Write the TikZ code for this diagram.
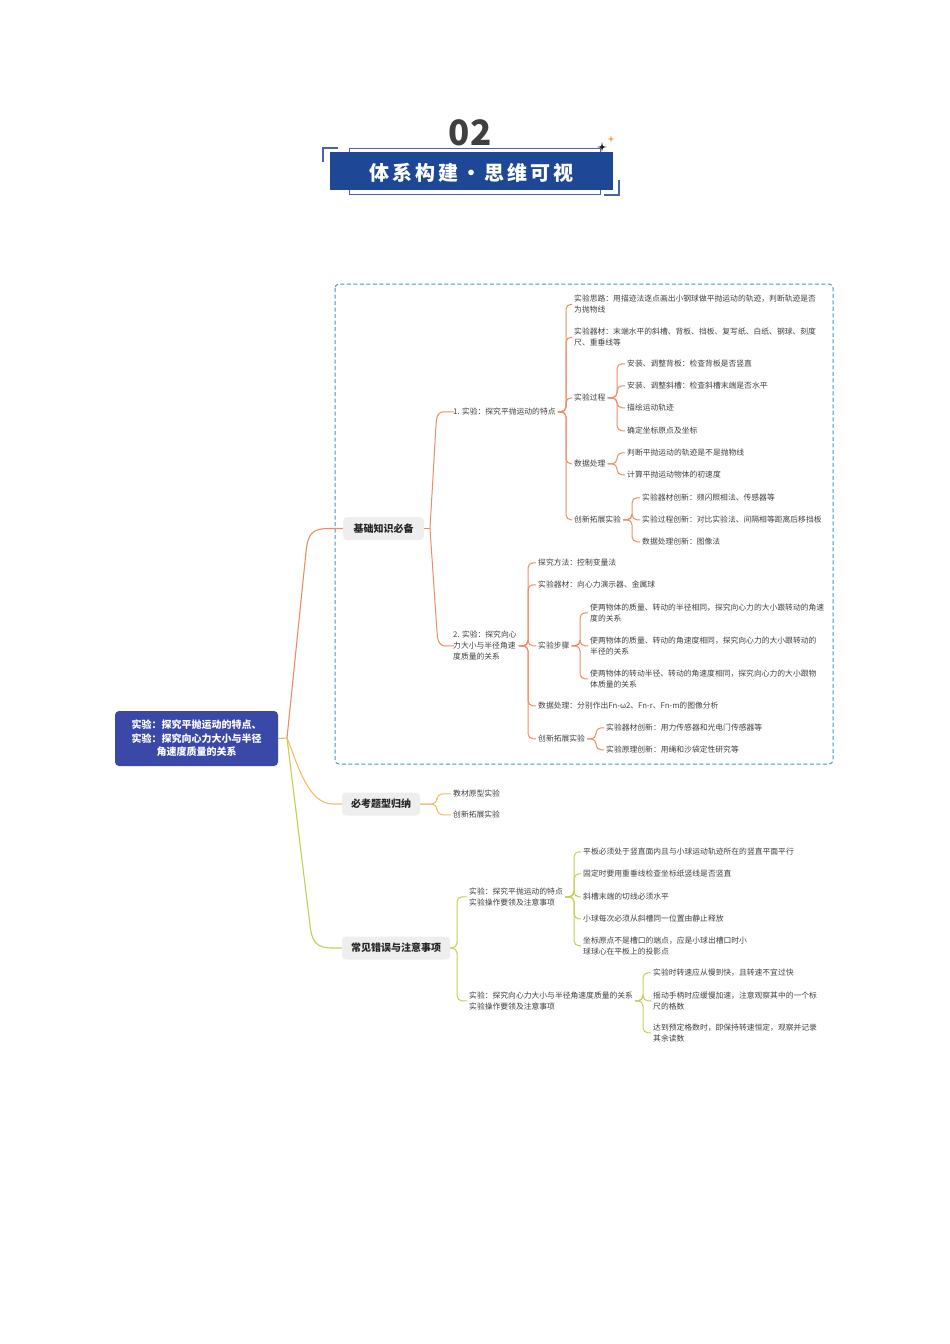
\documentclass[tikz,border=0pt]{standalone}
\usepackage{fontspec}
\setmainfont{Noto Sans CJK SC}
\usetikzlibrary{calc}
\definecolor{txt}{RGB}{64,64,64}
\definecolor{numc}{RGB}{64,64,64}
\definecolor{hblue}{RGB}{30,72,150}
\definecolor{hline}{RGB}{70,100,170}
\definecolor{boxc}{RGB}{60,150,210}
\definecolor{rootc}{RGB}{58,72,168}
\definecolor{kgray}{RGB}{238,238,238}
\definecolor{orA}{RGB}{235,140,100}
\definecolor{orB}{RGB}{242,188,100}
\definecolor{ygr}{RGB}{196,206,80}
\definecolor{starc}{RGB}{235,160,70}
\newcommand\brk[4]{\draw[#1] (#2.east) -- (#2.east -| #3) |- (#4.west);}
\begin{document}
\begin{tikzpicture}[x=1pt,y=-1pt,
  leaf/.style={anchor=west, inner xsep=2pt, inner ysep=1pt, yshift=-0.8pt, font=\fontsize{7.8}{11}\selectfont, text=txt, align=left},
  knode/.style={fill=kgray, rounded corners=4pt, font=\fontsize{10}{12}\selectfont\bfseries, text=black!85, minimum height=23pt, inner xsep=0pt},
  cA/.style={draw=orA, line width=1pt, rounded corners=5pt},
  cB/.style={draw=orB, line width=1pt, rounded corners=6pt},
  cC/.style={draw=ygr, line width=1pt, rounded corners=5pt},
  mainA/.style={draw=orA, line width=1.1pt},
  mainB/.style={draw=orB, line width=1.1pt},
  mainC/.style={draw=ygr, line width=1.1pt}]
\useasboundingbox (0,0) rectangle (950,1344);

% ---------- header ----------
\node[text=numc, font=\fontsize{35}{35}\selectfont\bfseries] (num) at (470,133) {02};
\draw[hline, line width=0.8pt] (349,148) rectangle (600,194);
\fill[hblue] (330,152) rectangle (613,190);
\draw[hline, line width=1.3pt] (323,162) -- (323,148) -- (338,148);
\draw[hline, line width=1.3pt] (604,195) -- (619,195) -- (619,180);
\node[text=white, font=\fontsize{20}{20}\selectfont\bfseries] (title) at (471,172.5)
  {体\hspace{3pt}系\hspace{3pt}构\hspace{3pt}建\hspace{3pt}・\hspace{3pt}思\hspace{3pt}维\hspace{3pt}可\hspace{3pt}视};
\fill[black!85, shift={(602,147)}] (0,-5) .. controls (0.6,-0.6) .. (5,0) .. controls (0.6,0.6) .. (0,5) .. controls (-0.6,0.6) .. (-5,0) .. controls (-0.6,-0.6) .. (0,-5) -- cycle;
\fill[starc, shift={(611,139)}] (0,-3.5) .. controls (0.4,-0.4) .. (3.5,0) .. controls (0.4,0.4) .. (0,3.5) .. controls (-0.4,0.4) .. (-3.5,0) .. controls (-0.4,-0.4) .. (0,-3.5) -- cycle;

% ---------- dashed box ----------
\draw[boxc, line width=1pt, dash pattern=on 4pt off 2.5pt, rounded corners=4pt] (335,284) rectangle (833,764);

% ---------- root and main branches ----------
\node[fill=rootc, rounded corners=4pt, text=white, font=\fontsize{10}{13.5}\selectfont\bfseries,
  align=center, minimum width=163pt, minimum height=55pt, inner sep=0pt] (root) at (196.5,738.5)
  {实验：探究平抛运动的特点、\\实验：探究向心力大小与半径\\角速度质量的关系};
\node[knode, minimum width=81pt] (k1) at (383.5,528.5) {基础知识必备};
\node[knode, minimum width=78pt] (k2) at (381,804) {必考题型归纳};
\node[knode, minimum width=108pt] (k3) at (396,948) {常见错误与注意事项};

\coordinate (rj) at (287,738);
\draw[mainC] (root.east) -- (rj);
\draw[mainA] (rj) -- (306,552) .. controls (308,533) and (312,528.5) .. (330,528.5) -- (k1.west);
\draw[mainB] (rj) .. controls (298,765) and (308,804) .. (333,804) -- (k2.west);
\draw[mainC] (rj) -- (310,925) .. controls (312,943) and (317,948) .. (333,948) -- (k3.west);

% ---------- 基础知识必备 ----------
\node[leaf] (n1) at (451,411) {1. 实验：探究平抛运动的特点};
\node[leaf] (n2) at (451,645) {2. 实验：探究向心\\力大小与半径角速\\度质量的关系};
\coordinate (kj) at (430,528.5);
\draw[mainA] (k1.east) -- (kj);
\draw[cA] (kj) -- (436,425) .. controls (437,414) and (440,411.8) .. (449,411.8) -- (n1.west);
\draw[cA] (kj) -- (437,632) .. controls (438,642) and (441,645.8) .. (449,645.8) -- (n2.west);

\coordinate (sA) at (566,0);
\node[leaf] (a1) at (572,303.5) {实验思路：用描迹法逐点画出小钢球做平抛运动的轨迹，判断轨迹是否\\为抛物线};
\node[leaf] (a2) at (572,336.5) {实验器材：末端水平的斜槽、背板、挡板、复写纸、白纸、钢球、刻度\\尺、重垂线等};
\node[leaf] (a3) at (572,397) {实验过程};
\node[leaf] (a4) at (572,463) {数据处理};
\node[leaf] (a5) at (572,519) {创新拓展实验};
\foreach \c in {a1,a2,a3,a4,a5} {\brk{cA}{n1}{sA}{\c}}

\coordinate (sB) at (617,0);
\node[leaf] (b1) at (625,363) {安装、调整背板：检查背板是否竖直};
\node[leaf] (b2) at (625,385) {安装、调整斜槽：检查斜槽末端是否水平};
\node[leaf] (b3) at (625,407) {描绘运动轨迹};
\node[leaf] (b4) at (625,430) {确定坐标原点及坐标};
\foreach \c in {b1,b2,b3,b4} {\brk{cA}{a3}{sB}{\c}}

\node[leaf] (c1) at (625,452) {判断平抛运动的轨迹是不是抛物线};
\node[leaf] (c2) at (625,474) {计算平抛运动物体的初速度};
\foreach \c in {c1,c2} {\brk{cA}{a4}{sB}{\c}}

\coordinate (sD) at (632,0);
\node[leaf] (d1) at (640,497) {实验器材创新：频闪照相法、传感器等};
\node[leaf] (d2) at (640,519) {实验过程创新：对比实验法、间隔相等距离后移挡板};
\node[leaf] (d3) at (640,541) {数据处理创新：图像法};
\foreach \c in {d1,d2,d3} {\brk{cA}{a5}{sD}{\c}}

\coordinate (sE) at (528,0);
\node[leaf] (e1) at (536,562) {探究方法：控制变量法};
\node[leaf] (e2) at (536,584) {实验器材：向心力演示器、金属球};
\node[leaf] (e3) at (536,645) {实验步骤};
\node[leaf] (e4) at (536,705) {数据处理：分别作出Fn-ω2、Fn-r、Fn-m的图像分析};
\node[leaf] (e5) at (536,738) {创新拓展实验};
\foreach \c in {e1,e2,e3,e4,e5} {\brk{cA}{n2}{sE}{\c}}

\coordinate (sF) at (580,0);
\node[leaf] (f1) at (588,612) {使两物体的质量、转动的半径相同，探究向心力的大小跟转动的角速\\度的关系};
\node[leaf] (f2) at (588,645) {使两物体的质量、转动的角速度相同，探究向心力的大小跟转动的\\半径的关系};
\node[leaf] (f3) at (588,678) {使两物体的转动半径、转动的角速度相同，探究向心力的大小跟物\\体质量的关系};
\foreach \c in {f1,f2,f3} {\brk{cA}{e3}{sF}{\c}}

\coordinate (sG) at (596,0);
\node[leaf] (g1) at (604,727) {实验器材创新：用力传感器和光电门传感器等};
\node[leaf] (g2) at (604,749) {实验原理创新：用绳和沙袋定性研究等};
\foreach \c in {g1,g2} {\brk{cA}{e5}{sG}{\c}}

% ---------- 必考题型归纳 ----------
\coordinate (sH) at (437,0);
\node[leaf] (h1) at (451,793) {教材原型实验};
\node[leaf] (h2) at (451,814) {创新拓展实验};
\foreach \c in {h1,h2} {\brk{cB}{k2}{sH}{\c}}

% ---------- 常见错误与注意事项 ----------
\coordinate (sI) at (457,0);
\node[leaf] (i1) at (467,896) {实验：探究平抛运动的特点\\实验操作要领及注意事项};
\node[leaf] (i2) at (467,1000) {实验：探究向心力大小与半径角速度质量的关系\\实验操作要领及注意事项};
\foreach \c in {i1,i2} {\brk{cC}{k3}{sI}{\c}}

\coordinate (sJ) at (574,0);
\node[leaf] (j1) at (581,851) {平板必须处于竖直面内且与小球运动轨迹所在的竖直平面平行};
\node[leaf] (j2) at (581,873) {固定时要用重垂线检查坐标纸竖线是否竖直};
\node[leaf] (j3) at (581,896) {斜槽末端的切线必须水平};
\node[leaf] (j4) at (581,918) {小球每次必须从斜槽同一位置由静止释放};
\node[leaf] (j5) at (581,945) {坐标原点不是槽口的端点，应是小球出槽口时小\\球球心在平板上的投影点};
\foreach \c in {j1,j2,j3,j4,j5} {\brk{cC}{i1}{sJ}{\c}}

\coordinate (sK) at (643,0);
\node[leaf] (m1) at (651,972) {实验时转速应从慢到快，且转速不宜过快};
\node[leaf] (m2) at (651,1000) {摇动手柄时应缓慢加速，注意观察其中的一个标\\尺的格数};
\node[leaf] (m3) at (651,1032) {达到预定格数时，即保持转速恒定，观察并记录\\其余读数};
\foreach \c in {m1,m2,m3} {\brk{cC}{i2}{sK}{\c}}
\end{tikzpicture}
\end{document}
